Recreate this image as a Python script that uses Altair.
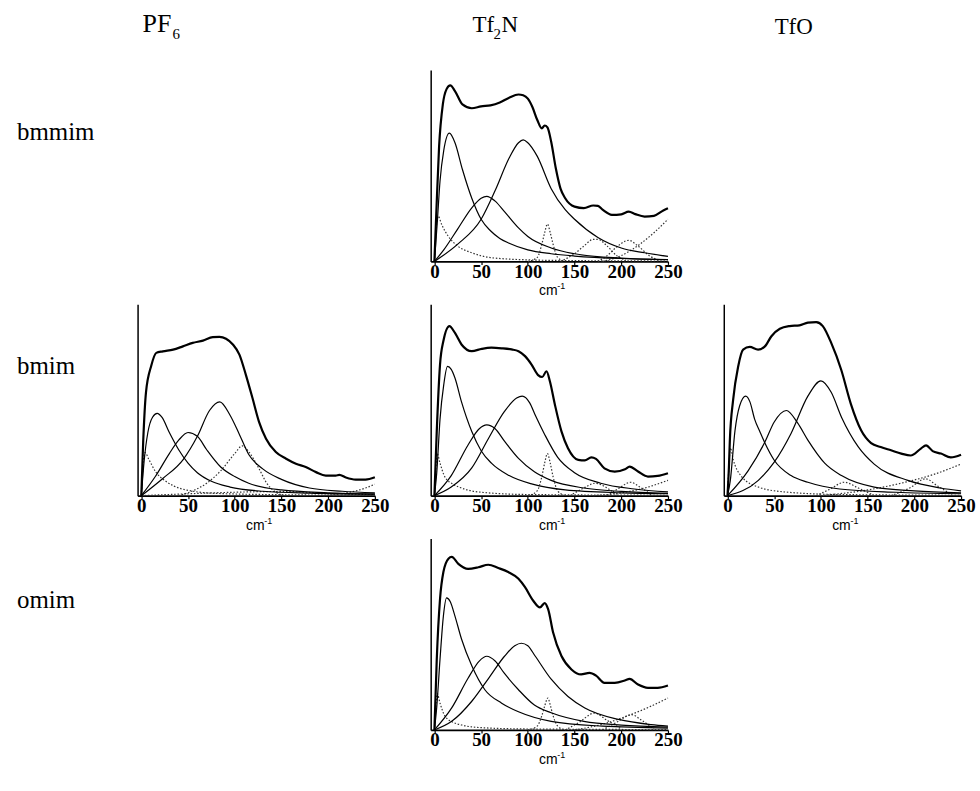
import altair as alt
import pandas as pd

# ---------------------------------------------------------------- labels
CATIONS = ["bmmim", "bmim", "omim"]
PF6_HEAD = ["PF", "6"]
TF2N_HEAD = ["Tf", "2", "N"]
TFO_HEAD = ["TfO"]
X_TICKS = [0, 50, 100, 150, 200, 250]
UNIT_LABEL = ["cm", "-1"]

# ---------------------------------------------------------------- Tf2N / bmmim
TF2N_BMMIM_TOTAL = [(0, 0), (2, 25), (5, 60), (9, 82), (13, 90), (17, 92), (22, 89), (30, 82), (40, 80),
                    (50, 81), (60, 81.5), (70, 83), (80, 85.5), (90, 87.2), (95, 86.8), (100, 85),
                    (105, 80.5), (110, 74), (115, 69.5), (118, 71), (121, 70), (125, 62.5), (130, 48.5),
                    (135, 38), (140, 33), (150, 28.6), (160, 27.8), (170, 29.2), (175, 29), (180, 27),
                    (190, 24.3), (200, 24.6), (208, 26), (215, 24.7), (225, 23.4), (235, 23.8),
                    (245, 26.6), (250, 27.8)]
TF2N_BMMIM_BAND1 = [(0, 0), (3, 20), (6, 42), (10, 58), (16, 67), (22, 62), (30, 48), (40, 33), (50, 22),
                    (60, 16), (70, 12), (80, 9.5), (100, 6), (125, 4), (150, 2.8), (200, 1.5), (250, 1)]
TF2N_BMMIM_BAND2 = [(0, 0), (10, 6), (25, 17), (40, 28), (50, 33), (56, 34), (65, 31.5), (75, 26),
                    (90, 17.5), (100, 13), (125, 7), (150, 4), (200, 1.7), (250, 0.9)]
TF2N_BMMIM_BAND3 = [(0, 0), (25, 9), (50, 22), (65, 37), (80, 54), (90, 62), (95, 63.5), (100, 62),
                    (110, 55), (125, 38), (140, 27), (150, 22), (175, 12.5), (200, 7), (225, 4.5),
                    (250, 2.6)]
TF2N_BMMIM_DOT1 = [(0, 0), (2, 18), (4, 23.5), (8, 19), (15, 13), (25, 8), (40, 4.5), (60, 2),
                   (100, 0.8), (150, 0.4), (250, 0.2)]
TF2N_BMMIM_DOT2 = [(100, 0), (110, 2), (115, 9), (118, 15), (121, 19.5), (124, 15), (127, 9), (132, 2),
                   (140, 0)]
TF2N_BMMIM_DOT3 = [(135, 0), (150, 4), (160, 8), (170, 11.5), (175, 11.5), (185, 8), (195, 3), (205, 0.5)]
TF2N_BMMIM_DOT4 = [(175, 0), (185, 3), (195, 7.5), (208, 11), (218, 8), (230, 3), (240, 0.5)]
TF2N_BMMIM_DOT5 = [(180, 0), (200, 3), (220, 9), (235, 15), (250, 22)]

# ---------------------------------------------------------------- PF6 / bmim
PF6_BMIM_TOTAL = [(0, 0), (2, 28), (5, 54), (10.7, 68), (16, 74.6), (23, 75.4), (34, 76.3), (44.5, 78),
                  (55, 79.8), (66, 81), (76.5, 82.8), (83.6, 83), (90.7, 82), (98, 79), (105, 73.7),
                  (112, 63), (119, 51), (126, 38.6), (133.5, 29.8), (144, 22.8), (155, 19.3),
                  (165.5, 16.7), (176, 15), (187, 12.3), (197.5, 10.5), (208, 10.5), (212, 10.9),
                  (219, 9.5), (229.5, 8.4), (240, 8.4), (250, 9.6)]
PF6_BMIM_BAND1 = [(0, 0), (3, 18), (7, 33), (12, 41), (17, 43), (22, 41), (30, 33), (40, 24), (50, 17),
                  (60, 12), (75, 7.5), (95, 4.5), (130, 2.3), (180, 1.3), (250, 0.8)]
PF6_BMIM_BAND2 = [(0, 0), (15, 10), (30, 22), (40, 29), (50, 33), (60, 31), (70, 24), (85, 15),
                  (100, 10), (115, 6.5), (150, 3), (200, 1.5), (250, 0.8)]
PF6_BMIM_BAND3 = [(0, 0), (23, 9), (45, 19), (60, 31), (73, 44.5), (84, 49), (95, 42), (105, 32),
                  (115, 21.5), (130, 14), (150, 8.5), (180, 4), (215, 2.3), (250, 1.5)]
PF6_BMIM_DOT1 = [(0, 0), (2, 17), (4, 22.5), (8, 19), (16, 12), (25, 8), (35, 5), (50, 2.8), (80, 1.2),
                 (150, 0.5), (250, 0.2)]
PF6_BMIM_DOT2 = [(40, 0), (55, 2.5), (70, 6.5), (85, 13), (100, 22), (108, 26), (115, 23), (125, 15),
                 (135, 6), (145, 1.5), (155, 0)]
PF6_BMIM_DOT3 = [(195, 0), (220, 1.5), (240, 4), (250, 6)]
PF6_BMIM_DOT4 = [(0, 0), (50, 1), (100, 1.8), (150, 2.2), (200, 1.2), (250, 0.5)]

# ---------------------------------------------------------------- Tf2N / bmim
TF2N_BMIM_TOTAL = [(0, 0), (2.5, 33.6), (6, 68.5), (9.6, 80.8), (16, 88.6), (22, 85), (29, 79),
                   (40, 75.5), (50.6, 76.7), (61, 77.3), (72, 77), (82.6, 76.4), (90, 75.5), (97, 72.9),
                   (104, 68.5), (111, 63), (115.4, 62), (120, 65), (123.6, 59.8), (129, 47.5),
                   (136, 33.6), (143, 24.8), (154, 18.7), (161, 18.4), (168, 20), (173, 19.2),
                   (182, 14.3), (193, 12.6), (204, 13.8), (209, 15.2), (218, 12.6), (228.6, 10),
                   (239, 10.3), (250, 11.7)]
TF2N_BMIM_BAND1 = [(0, 0), (2.5, 12), (6, 40), (10, 58), (14, 67.5), (18, 66), (22, 61.5), (29, 49),
                   (40, 33.5), (50, 23.5), (61, 17), (80, 10.5), (105, 6), (140, 3), (200, 1.5), (250, 1)]
TF2N_BMIM_BAND2 = [(0, 0), (18, 10.5), (36, 26.5), (48, 35), (56, 37), (65, 35), (75, 28.5), (90, 19.5),
                   (107, 12.5), (125, 8), (160, 4), (200, 2.2), (250, 1.2)]
TF2N_BMIM_BAND3 = [(0, 0), (18, 4.5), (40, 14.5), (58, 30), (75, 44), (88, 51), (94, 52), (102, 48.5),
                   (108, 42), (118, 32), (132, 20), (150, 12), (178, 6.5), (214, 3.5), (250, 2)]
TF2N_BMIM_DOT1 = [(0, 0), (1.5, 14), (3, 22), (6, 17), (11, 10), (20, 6), (29, 4), (50, 1.8), (100, 0.6),
                  (250, 0.2)]
TF2N_BMIM_DOT2 = [(100, 0), (110, 2.5), (115, 10), (118, 17), (121, 22), (124, 17), (127, 10), (132, 2.5),
                  (140, 0)]
TF2N_BMIM_DOT3 = [(145, 0), (160, 4), (172, 6.5), (185, 4), (195, 0.5)]
TF2N_BMIM_DOT4 = [(185, 0), (198, 4), (210, 7), (220, 4.5), (232, 0.5)]
TF2N_BMIM_DOT5 = [(170, 0), (200, 1.5), (225, 4), (250, 8)]

# ---------------------------------------------------------------- TfO / bmim
TFO_BMIM_TOTAL = [(0, 0), (1.5, 15), (2.5, 29), (6, 50), (11.4, 67.5), (16.7, 76.3), (23.8, 77.7),
                  (32.7, 76.3), (40, 78), (47, 83.3), (56, 87.2), (66.5, 88.6), (77, 89), (86, 90.4),
                  (95, 90.7), (102, 88.6), (111, 79.8), (121.7, 65.8), (132, 48), (143, 34.2),
                  (153.7, 27.5), (164, 25.4), (175, 23.7), (186, 22), (196, 21), (207, 24.6),
                  (212.5, 26.3), (219.6, 23.3), (228.5, 22), (239, 20), (250, 21.4)]
TFO_BMIM_BAND1 = [(0, 0), (3, 8), (8, 34), (13, 47), (19.5, 52), (24, 49), (29, 40), (35, 33), (40, 27.5),
                  (50, 18.5), (68, 10.5), (86, 7), (120, 3.5), (180, 1.8), (250, 1)]
TFO_BMIM_BAND2 = [(0, 0), (22, 13), (40, 28), (50, 38.5), (63, 44.5), (75, 38), (86, 29), (104, 17),
                  (122, 10.5), (157, 4.5), (200, 2.5), (250, 1.5)]
TFO_BMIM_BAND3 = [(0, 0), (33, 8), (50, 17.5), (68, 32.5), (86, 52), (100, 60), (111, 54), (122, 41),
                  (140, 25.5), (157, 16.5), (193, 8), (228, 4), (250, 2.5)]
TFO_BMIM_DOT1 = [(0, 0), (1.5, 15), (3, 25), (6, 19), (15, 10), (33, 4.5), (60, 2), (120, 0.6), (250, 0.2)]
TFO_BMIM_DOT2 = [(95, 0), (110, 3.5), (125, 7), (140, 4), (155, 0.5)]
TFO_BMIM_DOT3 = [(175, 0), (195, 4), (212, 8.8), (225, 5), (240, 0.5)]
TFO_BMIM_DOT4 = [(100, 0), (150, 3), (190, 7), (220, 11), (250, 16.5)]

# ---------------------------------------------------------------- Tf2N / omim
TF2N_OMIM_TOTAL = [(0, 0), (2.5, 36.8), (6, 68.4), (9.6, 82.5), (15, 89.5), (18.5, 90.4), (25.6, 86.8),
                   (36, 84.2), (47, 85), (57.7, 86.3), (68.4, 84.6), (79, 82.5), (90, 79), (97, 74.6),
                   (105.8, 67.5), (113, 64), (118, 66.3), (121.8, 63), (127, 51), (136, 38.6),
                   (146.7, 31.6), (157, 29), (166, 29.8), (173, 28.4), (182, 24.6), (193, 24.6),
                   (203.7, 25.8), (209, 26.7), (218, 23.7), (228.6, 22), (239, 22), (250, 23.2)]
TF2N_OMIM_BAND1 = [(0, 0), (2.5, 12), (6, 37), (9.6, 59.5), (13, 69), (17, 67), (22, 59.5), (29, 47.5),
                   (40, 33.5), (54, 21), (72, 14), (90, 9.5), (125, 4.5), (180, 2), (250, 1)]
TF2N_OMIM_BAND2 = [(0, 0), (18.5, 11.5), (36, 27), (48, 36), (56, 38.5), (65, 36), (75, 29.5), (90, 21),
                   (107, 13), (125, 9), (160, 4.5), (200, 2.5), (250, 1.5)]
TF2N_OMIM_BAND3 = [(0, 0), (18.5, 4.5), (40, 15), (58, 27), (75, 38.5), (86, 44), (93, 45.3), (100, 44),
                   (108, 38.5), (125, 26.5), (143, 17.5), (161, 11.5), (197, 5.5), (232, 2.8), (250, 2)]
TF2N_OMIM_DOT1 = [(0, 0), (1.5, 12), (3, 19), (6, 14), (11, 7.5), (20, 4), (29, 2.6), (50, 1.2),
                  (100, 0.5), (250, 0.2)]
TF2N_OMIM_DOT2 = [(100, 0), (110, 2), (115, 7.5), (118, 12.5), (121.5, 16.7), (124, 13), (127, 7.5),
                  (132, 2), (140, 0)]
TF2N_OMIM_DOT3 = [(140, 0), (155, 4), (171, 8.8), (185, 5), (200, 0.5)]
TF2N_OMIM_DOT4 = [(180, 0), (195, 4), (211, 8), (222, 5), (235, 0.5)]
TF2N_OMIM_DOT5 = [(150, 0), (180, 3), (210, 8), (230, 12), (250, 16.7)]

PANELS = {
    "Tf2N-bmmim": (TF2N_BMMIM_TOTAL,
                   [TF2N_BMMIM_BAND1, TF2N_BMMIM_BAND2, TF2N_BMMIM_BAND3],
                   [TF2N_BMMIM_DOT1, TF2N_BMMIM_DOT2, TF2N_BMMIM_DOT3, TF2N_BMMIM_DOT4, TF2N_BMMIM_DOT5]),
    "PF6-bmim": (PF6_BMIM_TOTAL,
                 [PF6_BMIM_BAND1, PF6_BMIM_BAND2, PF6_BMIM_BAND3],
                 [PF6_BMIM_DOT1, PF6_BMIM_DOT2, PF6_BMIM_DOT3, PF6_BMIM_DOT4]),
    "Tf2N-bmim": (TF2N_BMIM_TOTAL,
                  [TF2N_BMIM_BAND1, TF2N_BMIM_BAND2, TF2N_BMIM_BAND3],
                  [TF2N_BMIM_DOT1, TF2N_BMIM_DOT2, TF2N_BMIM_DOT3, TF2N_BMIM_DOT4, TF2N_BMIM_DOT5]),
    "TfO-bmim": (TFO_BMIM_TOTAL,
                 [TFO_BMIM_BAND1, TFO_BMIM_BAND2, TFO_BMIM_BAND3],
                 [TFO_BMIM_DOT1, TFO_BMIM_DOT2, TFO_BMIM_DOT3, TFO_BMIM_DOT4]),
    "Tf2N-omim": (TF2N_OMIM_TOTAL,
                  [TF2N_OMIM_BAND1, TF2N_OMIM_BAND2, TF2N_OMIM_BAND3],
                  [TF2N_OMIM_DOT1, TF2N_OMIM_DOT2, TF2N_OMIM_DOT3, TF2N_OMIM_DOT4, TF2N_OMIM_DOT5]),
}

# ---------------------------------------------------------------- layout sizes
PW, PH = 238, 192          # plot area of one spectrum panel
LW, HH = 65, 25            # row-label column width, header row height
SERIF = "Liberation Serif"
SANS = "Liberation Sans"


def curves_frame(key):
    total, bands, dots = PANELS[key]
    rows = []

    def add(kind, name, pts):
        for i, (x, y) in enumerate(pts):
            rows.append({"kind": kind, "curve": name, "i": i, "x": x, "y": y})

    add("total", "total", total)
    for j, b in enumerate(bands):
        add("band", f"band{j}", b)
    for j, d in enumerate(dots):
        add("dot", f"dot{j}", d)
    return pd.DataFrame(rows)


def text(t, x, y, size, font=SERIF, align="left", weight="normal"):
    return alt.Chart(pd.DataFrame({"t": [t]})).mark_text(
        align=align, baseline="alphabetic", font=font, fontSize=size,
        fontWeight=weight, color="black"
    ).encode(text="t:N", x=alt.value(x), y=alt.value(y))


def spectrum(key):
    df = curves_frame(key)
    xenc = alt.X("x:Q", scale=alt.Scale(domain=[-4, 250], nice=False, zero=False),
                 axis=alt.Axis(values=X_TICKS, title="", grid=False, domainColor="black",
                               domainWidth=1.8, tickColor="black", tickSize=3, tickWidth=1.2,
                               labelFont=SERIF, labelFontSize=19, labelFontWeight="bold",
                               labelColor="black", labelPadding=-2, labelFlush=False,
                               labelOverlap=False))
    yenc = alt.Y("y:Q", scale=alt.Scale(domain=[0, 100], nice=False),
                 axis=alt.Axis(title="", labels=False, ticks=False, grid=False,
                               domainColor="black", domainWidth=1.5))
    base = alt.Chart(df).encode(x=xenc, y=yenc, detail="curve:N", order="i:Q")
    dots = base.transform_filter(alt.datum.kind == "dot").mark_line(
        interpolate="monotone", color="#333333", strokeWidth=1.2, strokeDash=[1.5, 1.8])
    bands = base.transform_filter(alt.datum.kind == "band").mark_line(
        interpolate="monotone", color="black", strokeWidth=1.2)
    total = base.transform_filter(alt.datum.kind == "total").mark_line(
        interpolate="monotone", color="black", strokeWidth=2.2)
    unit = text(UNIT_LABEL[0], 118, PH + 34, 14, font=SANS, align="center")
    unit_sup = text(UNIT_LABEL[1], 127, PH + 28, 9, font=SANS)
    return alt.layer(dots, bands, total, unit, unit_sup).properties(width=PW, height=PH)


def blank(w, h):
    return alt.Chart(pd.DataFrame({"t": [""]})).mark_text().encode(
        text="t:N", x=alt.value(w / 2), y=alt.value(h / 2)).properties(width=w, height=h)


corner = alt.Chart(pd.DataFrame({"t": [0]})).mark_rect(opacity=0).encode(
    x=alt.value(0), x2=alt.value(LW), y=alt.value(0), y2=alt.value(HH)
).properties(width=LW, height=HH)

head_pf6 = alt.layer(
    text(PF6_HEAD[0], 5, 30, 26),
    text(PF6_HEAD[1], 35, 37, 15),
).properties(width=PW, height=HH)
head_tf2n = alt.layer(
    text(TF2N_HEAD[0], 42, 30, 23),
    text(TF2N_HEAD[1], 63, 37, 15),
    text(TF2N_HEAD[2], 71, 30, 23),
).properties(width=PW, height=HH)
head_tfo = alt.layer(
    text(TFO_HEAD[0], 51, 32, 23),
).properties(width=PW, height=HH)


def row_label(name):
    return text(name, 0, 70, 25).properties(width=LW, height=PH)


cells = [
    corner, head_pf6, head_tf2n, head_tfo,
    row_label(CATIONS[0]), blank(PW, PH), spectrum("Tf2N-bmmim"), blank(PW, PH),
    row_label(CATIONS[1]), spectrum("PF6-bmim"), spectrum("Tf2N-bmim"), spectrum("TfO-bmim"),
    row_label(CATIONS[2]), blank(PW, PH), spectrum("Tf2N-omim"), blank(PW, PH),
]

chart = alt.concat(
    *cells, columns=4, spacing={"row": 43, "column": 56}, bounds="flush", align="each"
).properties(
    padding={"left": 16, "top": 0, "right": 4, "bottom": 10}
).configure_view(stroke="transparent")

chart.save("out.html", embed_options={"renderer": "svg", "actions": False})
